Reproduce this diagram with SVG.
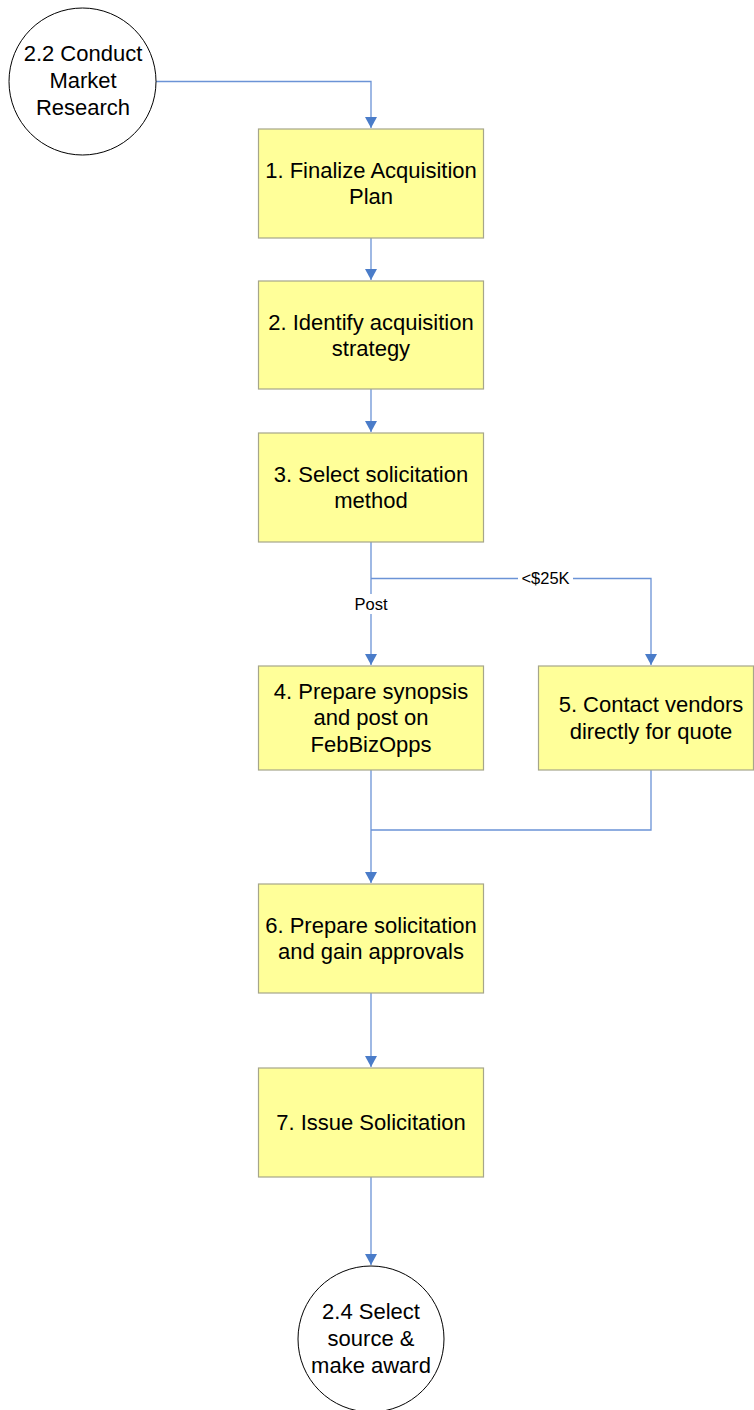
<svg xmlns="http://www.w3.org/2000/svg" width="754" height="1410" viewBox="0 0 754 1410">
  <style>
    .box { fill: #ffff99; stroke: #a6a68a; stroke-width: 1.2; }
    .term { fill: #ffffff; stroke: #000000; stroke-width: 1; }
    .lbl { font-family: "Liberation Sans", Arial, sans-serif; font-size: 22px; fill: #000; text-anchor: middle; }
    .small { font-family: "Liberation Sans", Arial, sans-serif; font-size: 16.5px; fill: #000; text-anchor: middle; }
    .wire { fill: none; stroke: #6b93d6; stroke-width: 1.3; }
  </style>
  <defs>
    <marker id="arrow" markerWidth="13" markerHeight="13" refX="11" refY="6" orient="auto" markerUnits="userSpaceOnUse">
      <path d="M0,0 L11,6 L0,12 Z" fill="#4a7cc9"/>
    </marker>
  </defs>
  <rect width="754" height="1410" fill="#ffffff"/>

  <g id="connectors">
    <path class="wire" d="M156,81.5 H371 V128" marker-end="url(#arrow)"/>
    <path class="wire" d="M371,238 V280" marker-end="url(#arrow)"/>
    <path class="wire" d="M371,389 V432" marker-end="url(#arrow)"/>
    <path class="wire" d="M371,542 V665" marker-end="url(#arrow)"/>
    <path class="wire" d="M371,578.5 H651 V665" marker-end="url(#arrow)"/>
    <path class="wire" d="M371,770 V883" marker-end="url(#arrow)"/>
    <path class="wire" d="M651,770 V830 H371"/>
    <path class="wire" d="M371,993 V1067" marker-end="url(#arrow)"/>
    <path class="wire" d="M371,1177 V1265" marker-end="url(#arrow)"/>
    <rect x="518" y="569" width="55" height="19" fill="#ffffff"/>
    <text class="small" x="545.5" y="584">&lt;$25K</text>
    <rect x="350" y="594" width="42" height="20" fill="#ffffff"/>
    <text class="small" x="371" y="609.5">Post</text>
  </g>

  <g id="n22">
    <circle class="term" cx="82.5" cy="81.5" r="73.5"/>
    <text class="lbl" x="83" y="61">2.2 Conduct</text>
    <text class="lbl" x="83" y="88">Market</text>
    <text class="lbl" x="83" y="114.5">Research</text>
  </g>

  <g id="n1">
    <rect class="box" x="258.5" y="129" width="225" height="109"/>
    <text class="lbl" x="371" y="178">1. Finalize Acquisition</text>
    <text class="lbl" x="371" y="204">Plan</text>
  </g>

  <g id="n2">
    <rect class="box" x="258.5" y="281" width="225" height="108"/>
    <text class="lbl" x="371" y="330">2. Identify acquisition</text>
    <text class="lbl" x="371" y="356">strategy</text>
  </g>

  <g id="n3">
    <rect class="box" x="258.5" y="433" width="225" height="109"/>
    <text class="lbl" x="371" y="482">3. Select solicitation</text>
    <text class="lbl" x="371" y="508">method</text>
  </g>

  <g id="n4">
    <rect class="box" x="258.5" y="666" width="225" height="104"/>
    <text class="lbl" x="371" y="698.5">4. Prepare synopsis</text>
    <text class="lbl" x="371" y="725">and post on</text>
    <text class="lbl" x="371" y="751.5">FebBizOpps</text>
  </g>

  <g id="n5">
    <rect class="box" x="538.5" y="666" width="215" height="104"/>
    <text class="lbl" x="651" y="712">5. Contact vendors</text>
    <text class="lbl" x="651" y="738.5">directly for quote</text>
  </g>

  <g id="n6">
    <rect class="box" x="258.5" y="884" width="225" height="109"/>
    <text class="lbl" x="371" y="932.5">6. Prepare solicitation</text>
    <text class="lbl" x="371" y="958.5">and gain approvals</text>
  </g>

  <g id="n7">
    <rect class="box" x="258.5" y="1068" width="225" height="109"/>
    <text class="lbl" x="371" y="1129.5">7. Issue Solicitation</text>
  </g>

  <g id="n24">
    <circle class="term" cx="371" cy="1339" r="73"/>
    <text class="lbl" x="371" y="1318.5">2.4 Select</text>
    <text class="lbl" x="371" y="1345.5">source &amp;</text>
    <text class="lbl" x="371" y="1372.5">make award</text>
  </g>
</svg>
